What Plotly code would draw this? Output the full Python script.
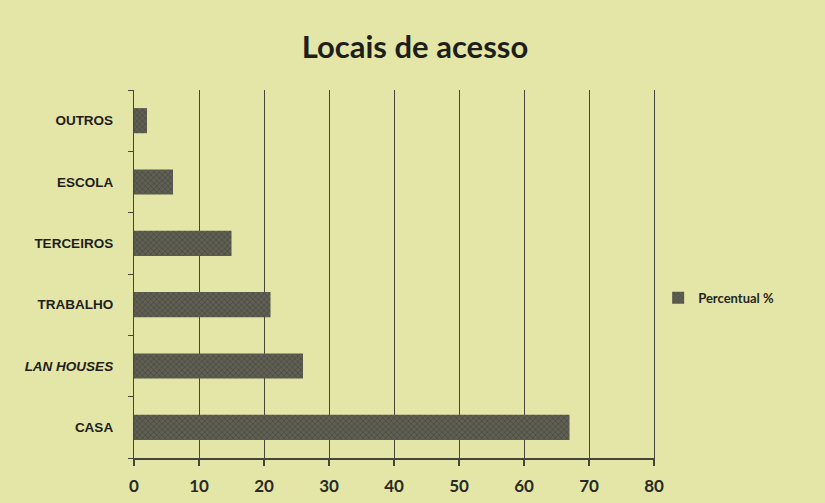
import plotly.graph_objects as go

# Access locations (bottom to top) and their share in percent
categories = ["CASA", "<i>LAN HOUSES</i>", "TRABALHO", "TERCEIROS", "ESCOLA", "OUTROS"]
percent = [67, 26, 21, 15, 6, 2]
x_ticks = [0, 10, 20, 30, 40, 50, 60, 70, 80]

bg = "#e4e6a8"
ink = "#45453c"

fig = go.Figure(
    go.Bar(
        y=categories,
        x=percent,
        orientation="h",
        name="Percentual %",
        marker=dict(
            color="#55554a",
            line=dict(width=0),
            pattern=dict(shape="x", size=4, solidity=0.35,
                         fgcolor="#35352d", bgcolor="#5f5f53"),
        ),
    )
)

fig.update_layout(
    width=825,
    height=503,
    paper_bgcolor=bg,
    plot_bgcolor=bg,
    margin=dict(l=134, r=171, t=90, b=45, autoexpand=False),
    bargap=0.59,
    title=dict(
        text="<b>Locais de acesso</b>",
        x=0.503, xanchor="center",
        y=0.907, yanchor="middle",
        font=dict(family="Lato", size=31, color="#1e1e1a"),
    ),
    showlegend=True,
    legend=dict(
        x=1.008, xanchor="left",
        y=0.435, yanchor="middle",
        bgcolor="rgba(0,0,0,0)",
        font=dict(family="Lato", size=13, color="#26261f", weight="bold"),
        itemwidth=30,
    ),
)

fig.update_xaxes(
    range=[0, 80],
    tickvals=x_ticks,
    automargin=False,
    showgrid=True,
    gridcolor=ink,
    gridwidth=1.3,
    showline=True,
    linecolor=ink,
    linewidth=2,
    ticks="outside",
    ticklen=6,
    tickcolor=ink,
    tickwidth=1.5,
    zeroline=False,
    ticklabelstandoff=6,
    tickfont=dict(family="Lato", size=17, color="#2a2a24", weight="bold"),
)

fig.update_yaxes(
    automargin=False,
    showgrid=False,
    showline=True,
    mirror=True,
    linecolor=ink,
    linewidth=1.3,
    ticks="outside",
    ticklen=5,
    tickcolor=ink,
    tickson="boundaries",
    ticklabelstandoff=17,
    tickfont=dict(family="Liberation Sans", size=13.5, color="#1e1e1a", weight="bold"),
)

fig.write_html("out.html")
